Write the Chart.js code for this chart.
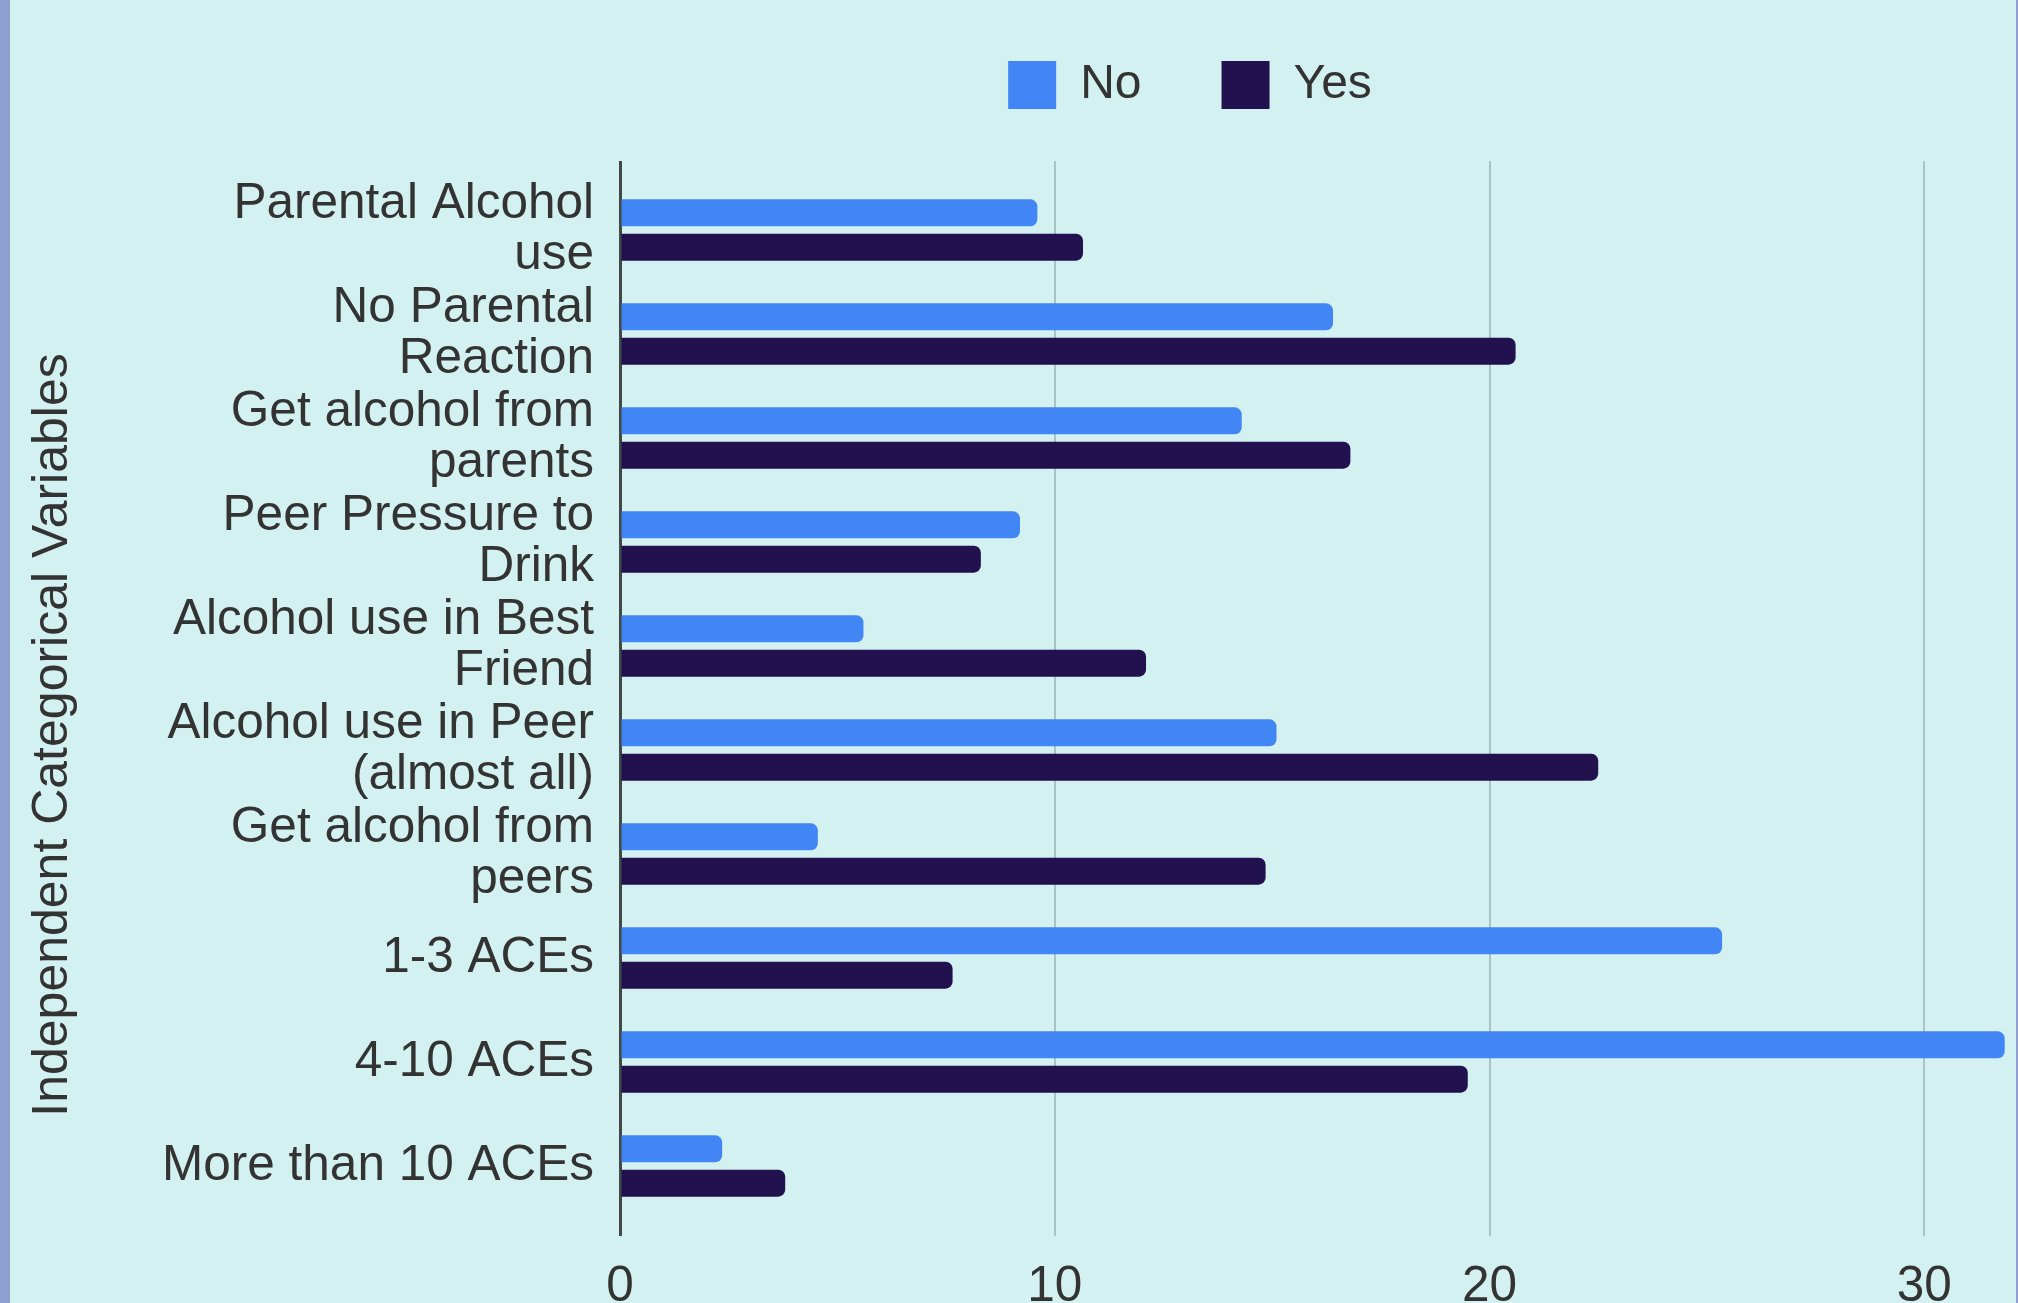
<!DOCTYPE html>
<html>
<head>
<meta charset="utf-8">
<script src="https://cdn.jsdelivr.net/npm/chart.js@4/dist/chart.umd.min.js"></script>
<style>
  html, body { margin: 0; padding: 0; background: #d3f1f0; overflow: hidden; }
  #frame {
    position: absolute; left: 0; top: 0;
    width: 2018px; height: 1303px;
    box-sizing: border-box;
    border-left: 10px solid #8e9fd0;
    border-right: 2px solid #8e9fd0;
    background: #d3f1f0;
  }
  canvas { display: block; }
</style>
</head>
<body>
<div id="frame"><canvas id="c" width="2006" height="1303"></canvas></div>
<script>
// ---- data ----
const categories = [
  ['Parental Alcohol', 'use'],
  ['No Parental', 'Reaction'],
  ['Get alcohol from', 'parents'],
  ['Peer Pressure to', 'Drink'],
  ['Alcohol use in Best', 'Friend'],
  ['Alcohol use in Peer', '(almost all)'],
  ['Get alcohol from', 'peers'],
  '1-3 ACEs',
  '4-10 ACEs',
  'More than 10 ACEs'
];
const seriesNames = ['No', 'Yes'];
const noValues  = [9.6, 16.4, 14.3, 9.2, 5.6, 15.1, 4.55, 25.35, 31.85, 2.35];
const yesValues = [10.65, 20.6, 16.8, 8.3, 12.1, 22.5, 14.85, 7.65, 19.5, 3.8];
const xTickStep = 10;
const xMin = 0;
const xMax = 32.11;
const axisTitle = 'Independent Categorical Variables';

// ---- styling ----
const FONT = "'Liberation Sans', Arial, sans-serif";
const TEXT = '#333333';
const GRID = '#a9c3c4';
const AXIS = '#404848';
const BLUE = '#4285f4';
const DARK = '#21114f';

Chart.defaults.font.family = FONT;

const gridColor = c => (c.tick && c.tick.value === 0) ? AXIS : GRID;
const gridWidth = c => (c.tick && c.tick.value === 0) ? 3 : 2;

// layout nudges: legend placement and vertical axis-title placement
const layoutNudge = {
  id: 'layoutNudge',
  afterLayout(chart) {
    const l = chart.legend;
    if (l) {
      const dx = 177, dy = -19;
      l.left += dx; l.right += dx; l.top += dy; l.bottom += dy;
    }
    const y = chart.scales.y;
    if (y) { y.top += 37; y.bottom += 37; }
  }
};

new Chart(document.getElementById('c'), {
  type: 'bar',
  data: {
    labels: categories,
    datasets: [
      { label: seriesNames[0], data: noValues, backgroundColor: BLUE, borderWidth: 0,
        borderRadius: 7, borderSkipped: 'start', clip: false },
      { label: seriesNames[1], data: yesValues, backgroundColor: DARK, borderWidth: 0,
        borderRadius: 7, borderSkipped: 'start', clip: false }
    ]
  },
  options: {
    indexAxis: 'y',
    responsive: false,
    animation: false,
    devicePixelRatio: 1,
    categoryPercentage: 0.662,
    barPercentage: 0.78,
    layout: { padding: 0 },
    plugins: {
      legend: {
        position: 'top',
        align: 'center',
        labels: {
          boxWidth: 48, boxHeight: 48, padding: 80,
          color: TEXT,
          font: { size: 48, family: FONT }
        }
      },
      tooltip: { enabled: false },
      title: { display: false }
    },
    scales: {
      x: {
        type: 'linear',
        position: 'bottom',
        min: xMin, max: xMax,
        border: { display: false },
        grid: { color: gridColor, lineWidth: gridWidth, tickColor: gridColor, tickWidth: gridWidth,
                drawTicks: true, tickLength: 18 },
        ticks: { stepSize: xTickStep, includeBounds: false, color: TEXT, padding: 27,
                 font: { size: 49.5, lineHeight: 1, family: FONT }, maxRotation: 0 },
        afterFit(s) { s.height = 85; }
      },
      x2: {
        type: 'linear',
        position: 'top',
        min: xMin, max: xMax,
        border: { display: false },
        grid: { drawOnChartArea: false, color: gridColor, lineWidth: gridWidth, tickColor: gridColor,
                tickWidth: gridWidth, drawTicks: true, tickLength: 17 },
        ticks: { stepSize: xTickStep, includeBounds: false, display: false },
        afterFit(s) { s.height = 40; }
      },
      y: {
        type: 'category',
        border: { display: false },
        grid: { display: false, drawTicks: false },
        ticks: { color: TEXT, padding: 26, autoSkip: false,
                 font: { size: 49.5, lineHeight: 1.02, family: FONT } },
        title: { display: true, text: axisTitle, color: TEXT,
                 font: { size: 50, family: FONT }, padding: { top: 13, bottom: 0 } },
        afterFit(s) { s.width = 610; }
      }
    }
  },
  plugins: [layoutNudge]
});
</script>
</body>
</html>
